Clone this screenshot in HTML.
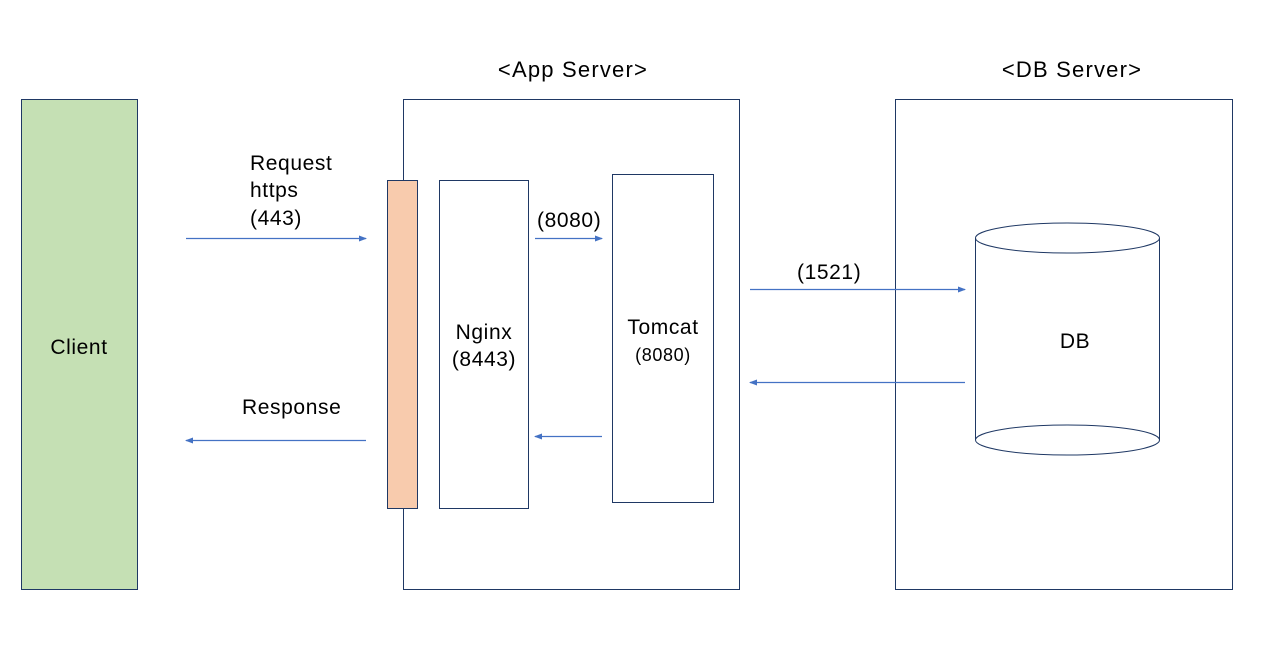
<!DOCTYPE html>
<html><head><style>
body{margin:0;width:1268px;height:659px;background:#fff;overflow:hidden}
</style></head><body>
<svg width="1268" height="659" xmlns="http://www.w3.org/2000/svg" font-family="Liberation Sans, sans-serif" letter-spacing="0.6">
<defs><marker id="a" markerWidth="8" markerHeight="6" refX="7" refY="3" orient="auto" markerUnits="userSpaceOnUse"><path d="M0,0L8,3L0,6z" fill="#4472c4"/></marker></defs>
<rect x="21.5" y="99.5" width="116" height="490" fill="#c5e0b4" stroke="#1f3864"/>
<text x="79" y="354" font-size="21" text-anchor="middle">Client</text>
<rect x="403.5" y="99.5" width="336" height="490" fill="#fff" stroke="#1f3864"/>
<rect x="895.5" y="99.5" width="337" height="490" fill="#fff" stroke="#1f3864"/>
<text x="573" y="77" font-size="22" text-anchor="middle" letter-spacing="1.2">&lt;App Server&gt;</text>
<text x="1072" y="77" font-size="22" text-anchor="middle" letter-spacing="1.2">&lt;DB Server&gt;</text>
<rect x="387.5" y="180.5" width="30" height="328" fill="#f8cbad" stroke="#1f3864"/>
<rect x="439.5" y="180.5" width="89" height="328" fill="#fff" stroke="#1f3864"/>
<text x="484" y="339" font-size="21" text-anchor="middle">Nginx</text>
<text x="484" y="366" font-size="21" text-anchor="middle">(8443)</text>
<rect x="612.5" y="174.5" width="101" height="328" fill="#fff" stroke="#1f3864"/>
<text x="663" y="334" font-size="21" text-anchor="middle">Tomcat</text>
<text x="663" y="361" font-size="18" text-anchor="middle">(8080)</text>
<path d="M975.5,238 V440 A92,15 0 0 0 1159.5,440 V238" fill="#fff" stroke="#1f3864"/>
<ellipse cx="1067.5" cy="238" rx="92" ry="15" fill="#fff" stroke="#1f3864"/>
<path d="M975.5,440 A92,15 0 0 1 1159.5,440" fill="none" stroke="#1f3864"/>
<text x="1075" y="348" font-size="21" text-anchor="middle">DB</text>
<text x="250" y="170" font-size="21">Request</text>
<text x="250" y="197" font-size="21">https</text>
<text x="250" y="225" font-size="21">(443)</text>
<text x="242" y="414" font-size="21">Response</text>
<text x="537" y="227" font-size="21">(8080)</text>
<text x="797" y="279" font-size="21">(1521)</text>
<g stroke="#4472c4" stroke-width="1.2" marker-end="url(#a)">
<line x1="186" y1="238.5" x2="366" y2="238.5"/>
<line x1="366" y1="440.5" x2="186" y2="440.5"/>
<line x1="535" y1="238.5" x2="602" y2="238.5"/>
<line x1="602" y1="436.5" x2="535" y2="436.5"/>
<line x1="750" y1="289.5" x2="965" y2="289.5"/>
<line x1="965" y1="382.5" x2="750" y2="382.5"/>
</g>
</svg>
</body></html>
